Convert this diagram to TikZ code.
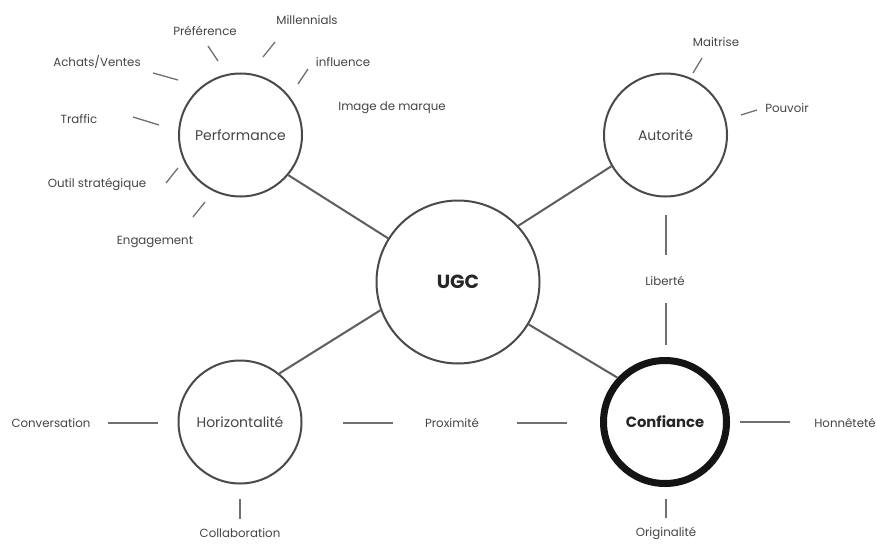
\documentclass[tikz,border=0pt]{standalone}
\usepackage{fontspec}
\setmainfont{Poppins}
\definecolor{circ}{HTML}{4A4A4A}
\definecolor{conn}{HTML}{5E5E5E}
\definecolor{tickc}{HTML}{707070}
\definecolor{txt}{HTML}{454545}
\tikzset{
  bubble/.style={circle, draw=circ, line width=2pt, minimum size=123pt, inner sep=0pt, text=txt, font=\fontsize{14}{16}\selectfont},
  hub/.style={bubble, minimum size=163pt, font=\fontsize{19}{21}\selectfont\bfseries, text=black!85},
  strong/.style={bubble, draw=black!92, line width=7pt, minimum size=123pt, font=\fontsize{14.8}{16}\selectfont\bfseries, text=black!85},
  lbl/.style={inner sep=1pt, text=txt, font=\fontsize{11.8}{13}\selectfont},
  link/.style={draw=conn, line width=2pt},
  spoke/.style={draw=tickc, line width=1.3pt}
}
\begin{document}
\begin{tikzpicture}[x=1pt,y=-1pt]
\useasboundingbox[fill=white] (0,0) rectangle (877,543);
% main bubbles
\node[hub] (ugc) at (458,282) {UGC};
\node[bubble] (perf) at (240.5,135) {Performance};
\node[bubble] (auto) at (665.5,135) {Autorité};
\node[bubble] (hori) at (240,422) {Horizontalité};
\node[strong] (conf) at (665,422) {Confiance};
% links
\draw[link] (perf.-40) -- (ugc.148);
\draw[link] (auto.-150) -- (ugc.43);
\draw[link] (hori.51) -- (ugc.-160);
\draw[link] (ugc.-31) -- (conf.137);
% Performance labels
\node[lbl] (mil) at (307,20) {Millennials};
\node[lbl] (pref) at (205,31) {Préférence};
\node[lbl] (achat) at (97,62) {Achats/Ventes};
\node[lbl] (infl) at (343,62) {influence};
\node[lbl] (img) at (392,108) {Image de marque};
\node[lbl] (traf) at (79,119) {Traffic};
\node[lbl] (outil) at (97,184) {Outil stratégique};
\node[lbl] (eng) at (155,242) {Engagement};
\draw[spoke] (208,46) -- (218,61);
\draw[spoke] (275,42) -- (263,57);
\draw[spoke] (308,69) -- (298,84);
\draw[spoke] (153,73) -- (178,80);
\draw[spoke] (133,117) -- (159,125);
\draw[spoke] (178,168) -- (166,183);
\draw[spoke] (205,202) -- (193,217);
% Autorite labels
\node[lbl] (mait) at (716,42) {Maitrise};
\node[lbl] (pouv) at (787,108) {Pouvoir};
\draw[spoke] (702,58) -- (693,73);
\draw[spoke] (757,110) -- (741,115);
% Liberte
\node[lbl] (lib) at (665,281) {Liberté};
\draw[spoke] (666,215) -- (666,255);
\draw[spoke] (666,303) -- (666,345);
% bottom row
\node[lbl] (conv) at (51,423) {Conversation};
\node[lbl] (prox) at (452,423) {Proximité};
\node[lbl] (honn) at (845,423) {Honnêteté};
\node[lbl] (coll) at (240,533) {Collaboration};
\node[lbl] (orig) at (666,533) {Originalité};
\draw[spoke] (108,423) -- (158,423);
\draw[spoke] (343,423) -- (393,423);
\draw[spoke] (517,423) -- (567,423);
\draw[spoke] (740,422) -- (790,422);
\draw[spoke] (240,499) -- (240,519);
\draw[spoke] (666,499) -- (666,518);
\end{tikzpicture}
\end{document}
